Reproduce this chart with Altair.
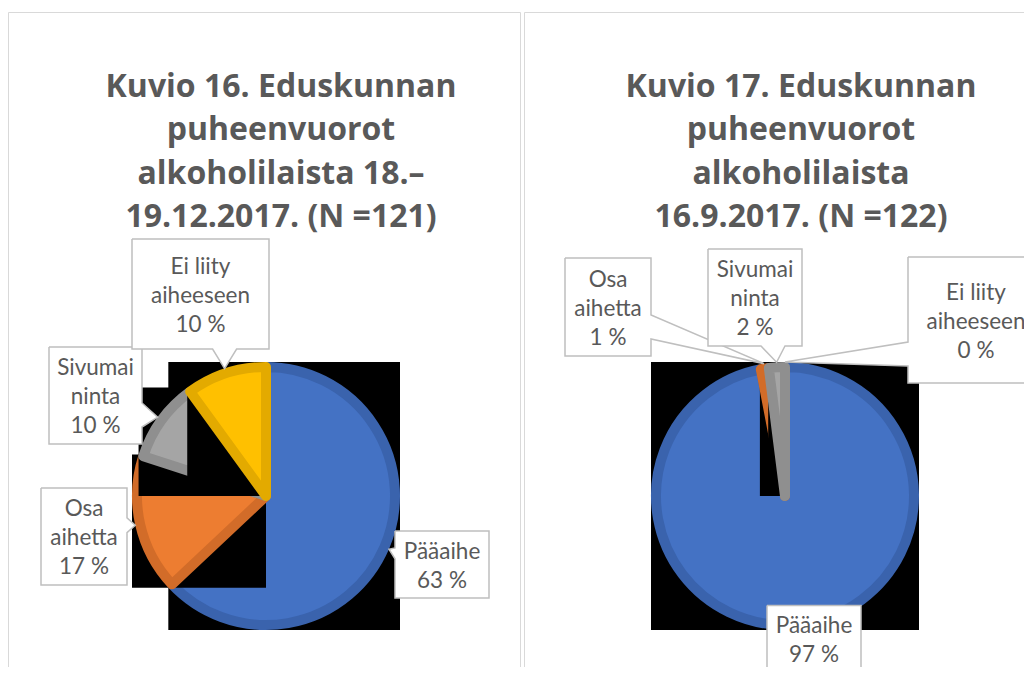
import math
import altair as alt
import pandas as pd

# ---------------- data ----------------
categories = ["Pääaihe", "Osa aihetta", "Sivumaininta", "Ei liity aiheeseen"]
label_lines = [["Pääaihe"], ["Osa", "aihetta"], ["Sivumai", "ninta"], ["Ei liity", "aiheeseen"]]
values_16 = [63, 17, 10, 10]
values_17 = [97, 1, 2, 0]
title_16 = ["Kuvio 16. Eduskunnan", "puheenvuorot", "alkoholilaista 18.–", "19.12.2017. (N =121)"]
title_17 = ["Kuvio 17. Eduskunnan", "puheenvuorot", "alkoholilaista", "16.9.2017. (N =122)"]

# ---------------- style / layout (page pixels) ----------------
fills = ["#4472C4", "#ED7D31", "#A5A5A5", "#FFC000"]
bands = ["#3A63AD", "#D26C29", "#8F8F8F", "#E3AA00"]
TEXT = "#595959"
BOX = "#BFBFBF"
FRAME = "#D9D9D9"
OFF = 8
R = 134
BAND = 10
LH = 29
W, H = 1016, 659

charts = [
    dict(values=values_16, title=title_16, cx=266, cy=496, tx=281,
         boxes=[(442, 564.5, 94, 67), (84, 536.5, 86, 97), (95.5, 395.5, 93, 97), (200.5, 294, 137, 110)],
         frame=(8.5, 12.5, 520.5, 720)),
    dict(values=values_17, title=title_17, cx=785, cy=496, tx=801,
         boxes=[(814, 639, 94, 67), (608, 307, 86, 98), (755, 297.5, 94, 97), (976, 320, 136, 126)],
         frame=(524.5, 12.5, 1080, 720)),
]


def slice_angles(values):
    total = float(sum(values))
    out, acc = [], 0.0
    for v in values:
        a0 = acc / total * 2 * math.pi
        acc += v
        a1 = acc / total * 2 * math.pi
        out.append((a0, a1))
    return out


def rim(cx, cy, a):
    return cx + R * math.sin(a), cy - R * math.cos(a)


def slice_bbox(cx, cy, a0, a1):
    pts = [(cx, cy), rim(cx, cy, a0), rim(cx, cy, a1)]
    for k in range(5):
        a = k * math.pi / 2
        if a0 < a < a1:
            pts.append(rim(cx, cy, a))
    xs = [p[0] for p in pts]
    ys = [p[1] for p in pts]
    return min(xs), max(xs), min(ys), max(ys)


def callout(bx, by, w, h, tip):
    x0, x1, y0, y1 = bx - w / 2, bx + w / 2, by - h / 2, by + h / 2
    tx, ty = tip
    TL, TR, BR, BL = (x0, y0), (x1, y0), (x1, y1), (x0, y1)
    m = 17
    clamp = lambda v, lo, hi: max(lo, min(hi, v))
    if x0 <= tx <= x1 and y0 <= ty <= y1:
        return [TL, TR, BR, BL, TL]
    if x0 <= tx <= x1:
        if ty < y0:
            half = min(12, 0.9 * (y0 - ty)); c = clamp(tx, x0 + half + m, x1 - half - m)
            return [TL, (c - half, y0), tip, (c + half, y0), TR, BR, BL, TL]
        half = min(12, 0.9 * (ty - y1)); c = clamp(tx, x0 + half + m, x1 - half - m)
        return [TL, TR, BR, (c + half, y1), tip, (c - half, y1), BL, TL]
    if tx > x1:
        half = min(12, 0.9 * (tx - x1)); c = clamp(ty, y0 + half + m, y1 - half - m)
        return [TL, TR, (x1, c - half), tip, (x1, c + half), BR, BL, TL]
    half = min(12, 0.9 * (x0 - tx)); c = clamp(ty, y0 + half + m, y1 - half - m)
    return [TL, TR, BR, BL, (x0, c + half), tip, (x0, c - half), TL]


# slice table built from the arrays
rows = []
for ci, ch in enumerate(charts):
    for i, (cat, v) in enumerate(zip(categories, ch["values"])):
        rows.append({"chart": ci, "category": cat, "value": v, "order": i})
slices = pd.DataFrame(rows)

theta_scale = alt.Scale(domain=[0, 1], range=[0, 2 * math.pi])
PX = lambda f: alt.X(f, scale=None, axis=None)
PY = lambda f: alt.Y(f, scale=None, axis=None)

layers = []

# chart frames
frames = pd.DataFrame([{"x": c["frame"][0] - OFF, "y": c["frame"][1] - OFF,
                        "x2": c["frame"][2] - OFF, "y2": c["frame"][3] - OFF} for c in charts])
layers.append(alt.Chart(frames).mark_rect(fill="transparent", stroke=FRAME, strokeWidth=1).encode(
    x=PX("x:Q"), x2="x2:Q", y=PY("y:Q"), y2="y2:Q"))

callouts, texts, titles = [], [], []
for ci, ch in enumerate(charts):
    cx, cy = ch["cx"], ch["cy"]
    angs = slice_angles(ch["values"])
    for i, v in enumerate(ch["values"]):
        a0, a1 = angs[i]
        if v > 0:
            bx0, bx1, by0, by1 = slice_bbox(cx, cy, a0, a1)
            bb = pd.DataFrame([{"x": bx0 - OFF, "x2": bx1 - OFF, "y": by0 - OFF, "y2": by1 - OFF}])
            layers.append(alt.Chart(bb).mark_rect(fill="black").encode(
                x=PX("x:Q"), x2="x2:Q", y=PY("y:Q"), y2="y2:Q"))
            arc = (alt.Chart(slices)
                   .transform_filter(alt.datum.chart == ci)
                   .transform_window(cum="sum(value)", sort=[alt.SortField("order")])
                   .transform_joinaggregate(total="sum(value)")
                   .transform_calculate(t0="(datum.cum - datum.value) / datum.total",
                                        t1="datum.cum / datum.total")
                   .transform_filter(alt.datum.order == i)
                   .mark_arc(fill=fills[i], stroke=bands[i], strokeWidth=BAND,
                             strokeJoin="round", radius=R - BAND / 2)
                   .encode(theta=alt.Theta("t0:Q", scale=theta_scale, stack=False),
                           theta2="t1:Q",
                           x=alt.value(cx - OFF), y=alt.value(cy - OFF)))
            layers.append(arc)
        # label callout
        mid = (a0 + a1) / 2
        tip = rim(cx, cy, mid)
        bx, by, bw, bh = ch["boxes"][i]
        for k, (px, py) in enumerate(callout(bx, by, bw, bh, tip)):
            callouts.append({"id": f"{ci}-{i}", "k": k, "x": px - OFF, "y": py - OFF})
        lines = label_lines[i] + [f"{v} %"]
        first_y = by + 1.5 - (len(lines) - 1) * LH / 2
        texts.append({"x": bx - OFF, "y": first_y - OFF, "text": "\n".join(lines)})
    for li, line in enumerate(ch["title"]):
        titles.append({"x": ch["tx"] - OFF, "y": 97 + li * 43.3 - OFF, "text": line})

layers.append(alt.Chart(pd.DataFrame(callouts)).mark_line(
    fill="white", stroke=BOX, strokeWidth=1.5, interpolate="linear").encode(
    x=PX("x:Q"), y=PY("y:Q"), order="k:Q", detail="id:N"))

layers.append(alt.Chart(pd.DataFrame(texts)).mark_text(
    font="Lato", fontSize=22.5, color=TEXT, align="center", baseline="middle",
    lineBreak="\n", lineHeight=LH).encode(x=PX("x:Q"), y=PY("y:Q"), text="text:N"))

layers.append(alt.Chart(pd.DataFrame(titles)).mark_text(
    font="Open Sans", fontSize=32, fontWeight="bold", color=TEXT, align="center",
    baseline="alphabetic").encode(x=PX("x:Q"), y=PY("y:Q"), text="text:N"))

chart = alt.layer(*layers).properties(
    width=W, height=H, padding=0, autosize=alt.AutoSizeParams(type="none")
).configure_view(stroke=None)

chart.save("out.html", embed_options={"renderer": "svg", "actions": False})
